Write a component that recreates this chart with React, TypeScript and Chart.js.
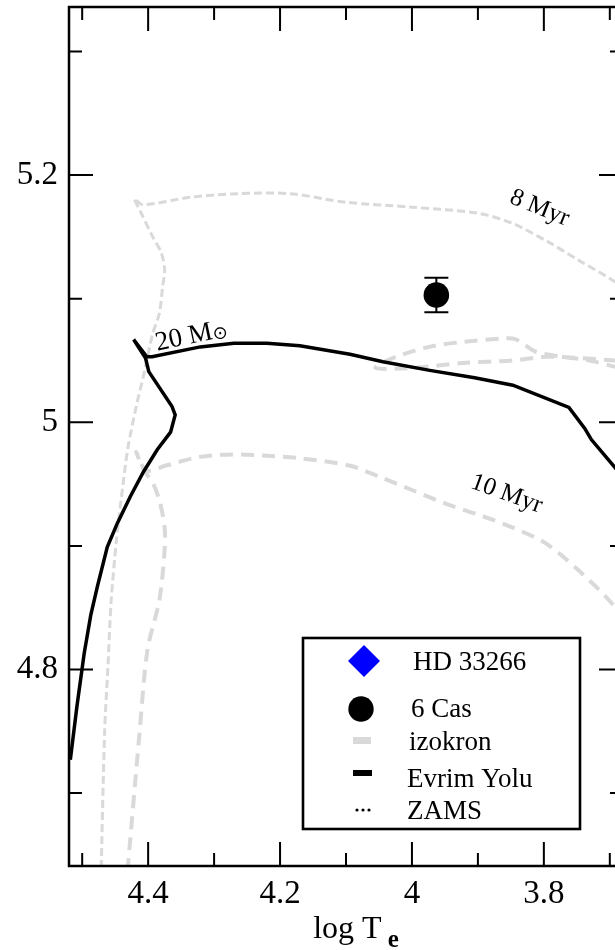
import React, { useEffect, useRef } from 'react';
import { Chart, registerables } from 'chart.js';

Chart.register(...registerables);

const SERIF = "'Liberation Serif', 'Times New Roman', serif";

// Axis ranges (log Te runs right-to-left)
const X_MIN = 3.68;
const X_MAX = 4.52;
const Y_MIN = 4.641;
const Y_MAX = 5.336;

// Tick values
const xMajorTicks = [3.8, 4.0, 4.2, 4.4];
const xMinorTicks = [3.7, 3.9, 4.1, 4.3, 4.5];
const yMajorTicks = [4.8, 5.0, 5.2];
const yMinorTicks = [4.7, 4.9, 5.1, 5.3];

// 20 Msun evolutionary track (Evrim Yolu)
const trackLogTe = [4.518, 4.508, 4.497, 4.487, 4.477, 4.462, 4.447, 4.427, 4.407, 4.386, 4.366, 4.359, 4.364, 4.399, 4.404, 4.422, 4.402, 4.394, 4.321, 4.270, 4.220, 4.170, 4.094, 4.044, 3.973, 3.905, 3.847, 3.762, 3.738, 3.728, 3.693, 3.655];
const trackLogL = [4.727, 4.770, 4.813, 4.844, 4.867, 4.899, 4.918, 4.940, 4.960, 4.978, 4.992, 5.006, 5.013, 5.041, 5.052, 5.067, 5.053, 5.053, 5.061, 5.064, 5.064, 5.062, 5.055, 5.049, 5.042, 5.036, 5.030, 5.012, 4.995, 4.986, 4.964, 4.939];

// 8 Myr isochrone
const iso8LogTe = [4.472, 4.466, 4.461, 4.456, 4.448, 4.441, 4.431, 4.418, 4.406, 4.393, 4.383, 4.378, 4.375, 4.380, 4.393, 4.413, 4.421, 4.408, 4.337, 4.262, 4.186, 4.100, 3.999, 3.898, 3.848, 3.797, 3.747, 3.696, 3.656];
const iso8LogL = [4.620, 4.749, 4.802, 4.856, 4.905, 4.937, 4.978, 5.013, 5.040, 5.072, 5.088, 5.110, 5.123, 5.137, 5.150, 5.172, 5.181, 5.176, 5.182, 5.185, 5.185, 5.178, 5.174, 5.169, 5.161, 5.147, 5.131, 5.115, 5.100];

// 10 Myr isochrone
const iso10LogTe = [4.434, 4.413, 4.401, 4.383, 4.375, 4.375, 4.383, 4.393, 4.406, 4.418, 4.403, 4.373, 4.322, 4.272, 4.221, 4.171, 4.095, 4.050, 3.999, 3.948, 3.898, 3.848, 3.797, 3.747, 3.696, 3.656];
const iso10LogL = [4.620, 4.749, 4.816, 4.856, 4.897, 4.915, 4.937, 4.951, 4.961, 4.976, 4.961, 4.965, 4.972, 4.974, 4.973, 4.971, 4.965, 4.956, 4.945, 4.934, 4.925, 4.915, 4.902, 4.880, 4.853, 4.824];

// Blue-loop branch of the isochrone set
const loopLogTe = [3.655, 3.693, 3.731, 3.772, 3.812, 3.842, 3.858, 3.923, 3.974, 4.024, 4.055, 3.999, 3.923, 3.848, 3.797, 3.747, 3.693, 3.655];
const loopLogL = [5.040, 5.045, 5.050, 5.053, 5.057, 5.067, 5.068, 5.065, 5.061, 5.053, 5.044, 5.044, 5.048, 5.050, 5.053, 5.052, 5.050, 5.048];

// 6 Cas
const cas6LogTe = [3.963];
const cas6LogL = [5.103];
const cas6LogLErr = [0.014];

// Curve labels
const curveLabelText = ['20 M', '8 Myr', '10 Myr'];
const curveLabelLogTe = [4.3345, 3.8065, 3.8564];
const curveLabelLogL = [5.0697, 5.1733, 4.942];
const curveLabelAngle = [-12, 22, 20];

// Legend entries
const legendNames = ['HD 33266', '6 Cas', 'izokron', 'Evrim Yolu', 'ZAMS'];

const ISO_GRAY = '#d9d9d9';

const toPoints = (xs: number[], ys: number[]) => xs.map((v, i) => ({ x: v, y: ys[i] }));
const fmtTick = (v: number) => String(Math.round(v * 10) / 10);

const hrDecor = {
  id: 'hrDecor',
  afterDatasetsDraw(chart: any) {
    const { ctx, scales } = chart;
    const x = scales.x;
    const y = scales.y;
    ctx.save();
    ctx.strokeStyle = '#000';
    ctx.lineWidth = 2;
    cas6LogTe.forEach((t, i) => {
      const px = x.getPixelForValue(t);
      const top = y.getPixelForValue(cas6LogL[i] + cas6LogLErr[i]);
      const bot = y.getPixelForValue(cas6LogL[i] - cas6LogLErr[i]);
      ctx.beginPath();
      ctx.moveTo(px, top);
      ctx.lineTo(px, bot);
      ctx.moveTo(px - 12, top);
      ctx.lineTo(px + 12, top);
      ctx.moveTo(px - 12, bot);
      ctx.lineTo(px + 12, bot);
      ctx.stroke();
    });
    ctx.restore();
  },
  afterDraw(chart: any) {
    const { ctx, chartArea: a, scales } = chart;
    const x = scales.x;
    const y = scales.y;
    ctx.save();

    // frame
    ctx.strokeStyle = '#000';
    ctx.lineWidth = 2.5;
    ctx.strokeRect(a.left, a.top, a.right - a.left, a.bottom - a.top);

    // inward ticks on all four sides
    ctx.lineWidth = 2;
    const xTick = (v: number, len: number) => {
      const px = x.getPixelForValue(v);
      ctx.beginPath();
      ctx.moveTo(px, a.bottom);
      ctx.lineTo(px, a.bottom - len);
      ctx.moveTo(px, a.top);
      ctx.lineTo(px, a.top + len);
      ctx.stroke();
    };
    const yTick = (v: number, len: number) => {
      const py = y.getPixelForValue(v);
      ctx.beginPath();
      ctx.moveTo(a.left, py);
      ctx.lineTo(a.left + len, py);
      ctx.moveTo(a.right, py);
      ctx.lineTo(a.right - len, py);
      ctx.stroke();
    };
    xMajorTicks.forEach((v) => xTick(v, 24));
    xMinorTicks.forEach((v) => xTick(v, 13));
    yMajorTicks.forEach((v) => yTick(v, 24));
    yMinorTicks.forEach((v) => yTick(v, 13));

    // curve labels
    ctx.fillStyle = '#000';
    curveLabelText.forEach((txt, i) => {
      const px = x.getPixelForValue(curveLabelLogTe[i]);
      const py = y.getPixelForValue(curveLabelLogL[i]);
      ctx.save();
      ctx.translate(px, py);
      ctx.rotate((curveLabelAngle[i] * Math.PI) / 180);
      ctx.textBaseline = 'middle';
      if (i === 0) {
        ctx.font = `27px ${SERIF}`;
        const w1 = ctx.measureText(txt).width;
        ctx.font = `18px 'DejaVu Sans', sans-serif`;
        const w2 = ctx.measureText('\u2299').width;
        const start = -(w1 + w2) / 2;
        ctx.font = `27px ${SERIF}`;
        ctx.textAlign = 'left';
        ctx.fillText(txt, start, 0);
        ctx.font = `18px 'DejaVu Sans', sans-serif`;
        ctx.fillText('\u2299', start + w1, 4);
      } else {
        ctx.font = `25px ${SERIF}`;
        ctx.textAlign = 'center';
        ctx.fillText(txt, 0, 0);
      }
      ctx.restore();
    });

    // x-axis title: log T_e
    ctx.textAlign = 'left';
    ctx.textBaseline = 'alphabetic';
    ctx.font = `32px ${SERIF}`;
    const main = 'log T';
    const wMain = ctx.measureText(main).width;
    ctx.font = `bold 25px ${SERIF}`;
    const wSub = ctx.measureText('e').width;
    const cx = (a.left + a.right) / 2 + 10;
    const startX = cx - (wMain + 6 + wSub) / 2;
    ctx.font = `32px ${SERIF}`;
    ctx.fillText(main, startX, a.bottom + 72);
    ctx.font = `bold 25px ${SERIF}`;
    ctx.fillText('e', startX + wMain + 6, a.bottom + 81);

    // legend
    const L = a.left + 234;
    const T = a.top + 631;
    const W = 277;
    const H = 191;
    ctx.fillStyle = '#fff';
    ctx.fillRect(L, T, W, H);
    ctx.strokeStyle = '#000';
    ctx.lineWidth = 2.6;
    ctx.strokeRect(L, T, W, H);

    // HD 33266 marker: blue diamond
    ctx.fillStyle = '#0000ff';
    ctx.beginPath();
    ctx.moveTo(L + 61, T + 7);
    ctx.lineTo(L + 77, T + 23);
    ctx.lineTo(L + 61, T + 39);
    ctx.lineTo(L + 45, T + 23);
    ctx.closePath();
    ctx.fill();

    // 6 Cas marker: black circle
    ctx.fillStyle = '#000';
    ctx.beginPath();
    ctx.arc(L + 58, T + 71, 12.7, 0, Math.PI * 2);
    ctx.fill();

    // izokron marker
    ctx.fillStyle = ISO_GRAY;
    ctx.fillRect(L + 50, T + 99, 18, 7);

    // Evrim Yolu marker
    ctx.fillStyle = '#000';
    ctx.fillRect(L + 50, T + 132, 19, 6);

    // ZAMS marker: dots
    [54, 60, 66].forEach((dx) => {
      ctx.beginPath();
      ctx.arc(L + dx, T + 172, 1.6, 0, Math.PI * 2);
      ctx.fill();
    });

    ctx.font = `27px ${SERIF}`;
    ctx.fillStyle = '#000';
    const textX = [110, 108, 106, 104, 104];
    const textY = [32, 79, 112, 149, 181];
    legendNames.forEach((n, i) => {
      ctx.fillText(n, L + textX[i], T + textY[i]);
    });

    ctx.restore();
  },
};

export default function App() {
  const canvasRef = useRef<HTMLCanvasElement>(null);

  useEffect(() => {
    if (!canvasRef.current) return;
    const chart = new Chart(canvasRef.current, {
      type: 'scatter',
      data: {
        datasets: [
          {
            label: '6 Cas',
            data: toPoints(cas6LogTe, cas6LogL),
            showLine: false,
            pointRadius: 12.8,
            pointBackgroundColor: '#000',
            pointBorderWidth: 0,
            order: 0,
          },
          {
            label: 'Evrim Yolu',
            data: toPoints(trackLogTe, trackLogL),
            showLine: true,
            borderColor: '#000',
            borderWidth: 3.5,
            pointRadius: 0,
            tension: 0,
            order: 1,
          },
          {
            label: '8 Myr',
            data: toPoints(iso8LogTe, iso8LogL),
            showLine: true,
            borderColor: ISO_GRAY,
            borderWidth: 3,
            borderDash: [8, 4],
            pointRadius: 0,
            tension: 0.3,
            order: 2,
          },
          {
            label: '10 Myr',
            data: toPoints(iso10LogTe, iso10LogL),
            showLine: true,
            borderColor: ISO_GRAY,
            borderWidth: 4,
            borderDash: [13, 8],
            pointRadius: 0,
            tension: 0.3,
            order: 3,
          },
          {
            label: 'loop',
            data: toPoints(loopLogTe, loopLogL),
            showLine: true,
            borderColor: ISO_GRAY,
            borderWidth: 4,
            borderDash: [13, 8],
            pointRadius: 0,
            tension: 0.3,
            order: 4,
          },
        ],
      },
      options: {
        animation: false,
        responsive: false,
        devicePixelRatio: 1,
        layout: { autoPadding: false, padding: { top: 7, right: 17, left: 0, bottom: 0 } },
        plugins: { legend: { display: false }, tooltip: { enabled: false } },
        scales: {
          x: {
            type: 'linear',
            reverse: true,
            min: X_MIN,
            max: X_MAX,
            grid: { display: false, drawTicks: false },
            border: { display: false },
            ticks: {
              color: '#000',
              font: { family: SERIF, size: 33 },
              padding: 9,
              maxRotation: 0,
              autoSkip: false,
              callback: (v: any) => fmtTick(Number(v)),
            },
            afterBuildTicks: (s: any) => {
              s.ticks = xMajorTicks.map((v) => ({ value: v }));
            },
            afterFit: (s: any) => {
              s.height = 84;
              s.paddingLeft = 0;
              s.paddingRight = 0;
            },
          },
          y: {
            type: 'linear',
            min: Y_MIN,
            max: Y_MAX,
            grid: { display: false, drawTicks: false },
            border: { display: false },
            ticks: {
              color: '#000',
              font: { family: SERIF, size: 33 },
              padding: 11,
              autoSkip: false,
              callback: (v: any) => fmtTick(Number(v)),
            },
            afterBuildTicks: (s: any) => {
              s.ticks = yMajorTicks.map((v) => ({ value: v }));
            },
            afterFit: (s: any) => {
              s.width = 69;
              s.paddingTop = 0;
              s.paddingBottom = 0;
            },
          },
        },
      },
      plugins: [hrDecor],
    } as any);
    return () => chart.destroy();
  }, []);

  return (
    <div
      style={{
        position: 'fixed',
        left: 0,
        top: 0,
        width: 615,
        height: 950,
        overflow: 'hidden',
        background: '#fff',
      }}
    >
      <canvas ref={canvasRef} width={640} height={950} style={{ display: 'block', width: 640, height: 950 }} />
    </div>
  );
}
